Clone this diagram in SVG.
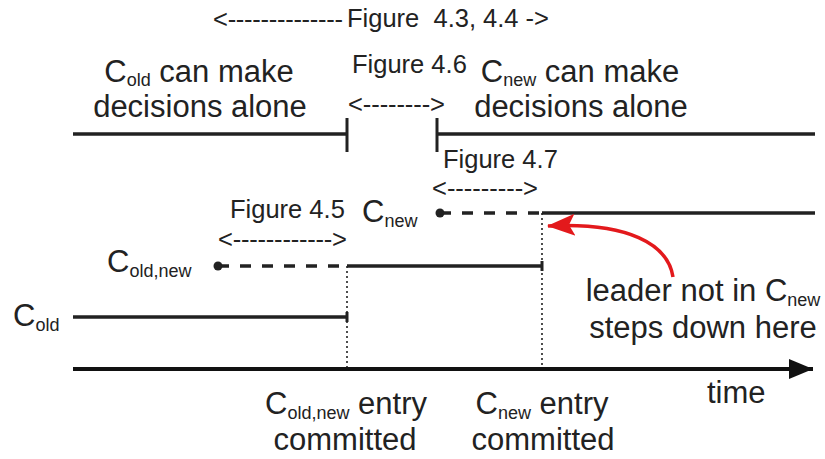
<svg xmlns="http://www.w3.org/2000/svg" width="825" height="459" viewBox="0 0 825 459">
  <defs>
    <style>
      text { font-family: "Liberation Sans", Arial, sans-serif; fill: #222; }
      .big { font-size: 31px; }
      .fig { font-size: 25.5px; }
      .span { font-size: 25.5px; }
      .sub { font-size: 18px; }
      .mid { text-anchor: middle; }
      .solid { stroke: #222; stroke-width: 3.5; fill: none; }
      .tick { stroke: #222; stroke-width: 3; fill: none; }
      .dash { stroke: #222; stroke-width: 3.5; fill: none; stroke-dasharray: 11 11; }
      .dot { stroke: #222; stroke-width: 1.6; fill: none; stroke-dasharray: 2 3; }
      .start { fill: #222; }
    </style>
    <marker id="axisHead" viewBox="0 0 24 20" refX="24" refY="10" markerWidth="24" markerHeight="20" markerUnits="userSpaceOnUse" orient="auto">
      <path d="M0,0 L24,10 L0,20 z" fill="#111"/>
    </marker>
    <marker id="redHead" viewBox="0 0 28 24" refX="27" refY="12" markerWidth="28" markerHeight="24" markerUnits="userSpaceOnUse" orient="auto">
      <path d="M0,1 L28,12 L0,23 L6,12 z" fill="#e3191c"/>
    </marker>
  </defs>

  <!-- figure references -->
  <g id="fig-43-44">
    <text class="span" x="213" y="28" textLength="130" lengthAdjust="spacing">&lt;--------------</text>
    <text class="fig" x="347" y="27" xml:space="preserve">Figure  4.3, 4.4 -&gt;</text>
  </g>
  <g id="fig-46">
    <text class="fig" x="352" y="73">Figure 4.6</text>
    <text class="span" x="348" y="113" textLength="97" lengthAdjust="spacing">&lt;--------&gt;</text>
  </g>
  <g id="fig-47">
    <text class="fig" x="443" y="168">Figure 4.7</text>
    <text class="span" x="432" y="197" textLength="106" lengthAdjust="spacing">&lt;---------&gt;</text>
  </g>
  <g id="fig-45">
    <text class="fig" x="230" y="218">Figure 4.5</text>
    <text class="span" x="218" y="248" textLength="129" lengthAdjust="spacing">&lt;------------&gt;</text>
  </g>

  <!-- who decides -->
  <g id="old-alone">
    <text class="big mid" x="199" y="82">C<tspan class="sub" dy="4">old</tspan><tspan dy="-4"> can make</tspan></text>
    <text class="big mid" x="200" y="117">decisions alone</text>
    <line class="solid" x1="73" y1="134" x2="347" y2="134"/>
    <line class="tick" x1="347" y1="118" x2="347" y2="152"/>
  </g>
  <g id="new-alone">
    <text class="big mid" x="580" y="82">C<tspan class="sub" dy="4">new</tspan><tspan dy="-4"> can make</tspan></text>
    <text class="big mid" x="581" y="117">decisions alone</text>
    <line class="solid" x1="437" y1="134" x2="815" y2="134"/>
    <line class="tick" x1="437" y1="118" x2="437" y2="152"/>
  </g>

  <!-- configuration timelines -->
  <g id="c-new">
    <text class="big" x="362" y="222">C<tspan class="sub" dy="5">new</tspan></text>
    <circle class="start" cx="440" cy="213" r="4.5"/>
    <line class="dash" x1="440" y1="213" x2="542" y2="213"/>
    <line class="solid" x1="542" y1="213" x2="815" y2="213"/>
  </g>
  <g id="c-old-new">
    <text class="big" x="107" y="272">C<tspan class="sub" dy="5">old,new</tspan></text>
    <circle class="start" cx="218" cy="266" r="4.5"/>
    <line class="dash" x1="218" y1="266" x2="347" y2="266"/>
    <line class="solid" x1="347" y1="266" x2="542" y2="266"/>
    <line class="tick" x1="542" y1="261" x2="542" y2="271"/>
  </g>
  <g id="c-old">
    <text class="big" x="13" y="326">C<tspan class="sub" dy="5">old</tspan></text>
    <line class="solid" x1="73" y1="317" x2="347" y2="317"/>
    <line class="tick" x1="347" y1="312" x2="347" y2="322"/>
  </g>

  <!-- time axis -->
  <g id="axis">
    <line stroke="#111" stroke-width="4" x1="73" y1="369" x2="813" y2="369" marker-end="url(#axisHead)"/>
    <text class="big" x="707" y="403">time</text>
  </g>

  <!-- commit points -->
  <g id="commit-old-new">
    <text class="big mid" x="346" y="414">C<tspan class="sub" dy="5">old,new</tspan><tspan dy="-5"> entry</tspan></text>
    <text class="big mid" x="345" y="450">committed</text>
  </g>
  <g id="commit-new">
    <text class="big mid" x="542" y="414">C<tspan class="sub" dy="5">new</tspan><tspan dy="-5"> entry</tspan></text>
    <text class="big mid" x="543" y="450">committed</text>
  </g>

  <g id="step-down-note">
    <text class="big mid" x="703" y="301">leader not in C<tspan class="sub" dy="5">new</tspan></text>
    <text class="big mid" x="703" y="338">steps down here</text>
  </g>

  <!-- connectors -->
  <g id="connectors">
    <line class="dot" x1="347" y1="266" x2="347" y2="367"/>
    <line class="dot" x1="542" y1="213" x2="542" y2="367"/>
    <path d="M673,277 C668,244 628,222 548,226" stroke="#e3191c" stroke-width="3.5" fill="none" marker-end="url(#redHead)"/>
  </g>
</svg>
